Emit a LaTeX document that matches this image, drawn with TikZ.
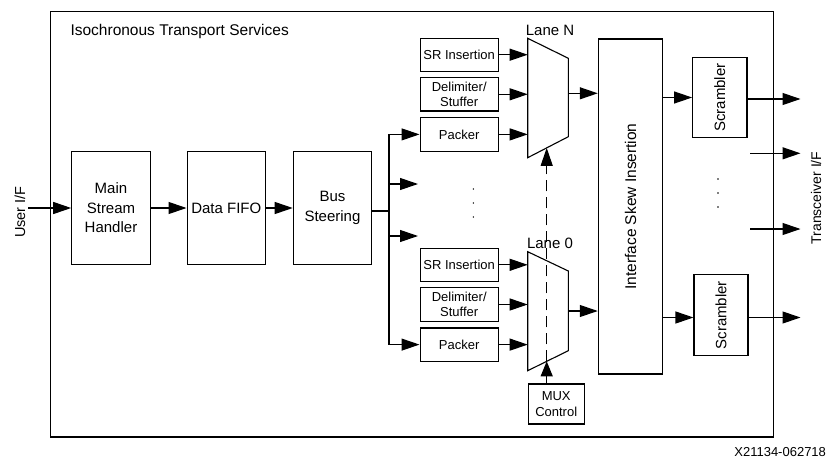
\documentclass[tikz,border=0pt]{standalone}
\usepackage{fontspec}
\setmainfont{Liberation Sans}
\usetikzlibrary{arrows.meta}

\begin{document}
\begin{tikzpicture}[x=1pt,y=-1pt,
  line width=1.1pt,
  box/.style={draw, line width=1.1pt, inner sep=0pt, align=center},
  bigbox/.style={box, minimum width=78.5pt, minimum height=112.5pt,
                 font=\fontsize{15}{19.5}\selectfont},
  smallbox/.style={box, minimum width=78.3pt, minimum height=33.3pt,
                   font=\fontsize{13}{15}\selectfont},
  arr/.style={-{Triangle[length=18pt,width=12pt]}},
  dots/.style={fill, circle, inner sep=0pt, minimum size=1.6pt},
  lbl/.style={font=\fontsize{15}{18}\selectfont, inner sep=0pt}]

\useasboundingbox (0,0) rectangle (827,458);

% enclosing block
\node[draw, line width=1.3pt, minimum width=723pt, minimum height=425.3pt, inner sep=0pt]
  (its) at (412.2,224.35) {};
\node[lbl, anchor=base west, font=\fontsize{15.5}{18}\selectfont] (title) at (70,35.5)
  {Isochronous Transport Services};

% input side
\node[lbl, rotate=90, font=\fontsize{14.5}{17}\selectfont] (user) at (20,212) {User I/F};
\coordinate (userin) at (28,208);

\node[bigbox] (msh)  at (111,208)   {Main\\Stream\\Handler};
\node[bigbox] (fifo) at (226.3,208) {Data FIFO};
\node[bigbox] (bus)  at (332.5,208) {Bus\\Steering};

\draw[arr] (userin) -- (msh.west);
\draw[arr] (msh) -- (fifo);
\draw[arr] (fifo) -- (bus);

% lane N sources
\node[smallbox] (srN)  at (459.2,54.7)  {SR Insertion};
\node[smallbox] (delN) at (459.2,94.3)  {Delimiter/\\Stuffer};
\node[smallbox] (pkN)  at (459.2,134.4) {Packer};
% lane 0 sources
\node[smallbox] (sr0)  at (459.2,264.8) {SR Insertion};
\node[smallbox] (del0) at (459.2,304.5) {Delimiter/\\Stuffer};
\node[smallbox] (pk0)  at (459.2,344.6) {Packer};

% bus steering fan-out
\coordinate (split) at (389,211);
\coordinate (brA) at (418,184);
\coordinate (brB) at (418,236);
\draw (bus.east |- split) -- (split);
\draw (389,134.4) -- (389,344.6);
\draw[arr] (389,134.4) -- (pkN.west);
\draw[arr] (389,184) -- (brA);
\draw[arr] (389,236) -- (brB);
\draw[arr] (389,344.6) -- (pk0.west);

% vertical ellipsis between lanes
\node[dots] (d1) at (473.3,189) {};
\node[dots] (d2) at (473.3,203) {};
\node[dots] (d3) at (473.3,217) {};

% multiplexers
\coordinate (muxNtl) at (527.7,38.3);
\coordinate (muxNtr) at (568.3,58.3);
\coordinate (muxNbr) at (568.3,136.7);
\coordinate (muxNbl) at (527.7,157.7);
\draw (muxNtl) -- (muxNtr) -- (muxNbr) -- (muxNbl) -- cycle;
\coordinate (mux0tl) at (527.7,251.7);
\coordinate (mux0tr) at (568.3,271);
\coordinate (mux0br) at (568.3,350.7);
\coordinate (mux0bl) at (527.7,370.7);
\draw (mux0tl) -- (mux0tr) -- (mux0br) -- (mux0bl) -- cycle;

\node[lbl, anchor=base] (laneN) at (550,35) {Lane N};
\node[lbl, anchor=base] (lane0) at (550,248.3) {Lane 0};

\draw[arr] (srN.east)  -- (srN.east -| muxNtl);
\draw[arr] (delN.east) -- (delN.east -| muxNtl);
\draw[arr] (pkN.east)  -- (pkN.east -| muxNtl);
\draw[arr] (sr0.east)  -- (sr0.east -| mux0tl);
\draw[arr] (del0.east) -- (del0.east -| mux0tl);
\draw[arr] (pk0.east)  -- (pk0.east -| mux0tl);

% mux select
\node[smallbox, minimum width=55.7pt, minimum height=40pt,
      font=\fontsize{13}{15.7}\selectfont] (muxc) at (556.2,404) {MUX\\Control};
\coordinate (sel0) at (546.7,361.3);
\coordinate (selN) at (546.7,147.9);
\draw[-{Triangle[length=15pt,width=12pt]}] (muxc.north -| sel0) -- (sel0);
\draw[arr, dash pattern=on 11pt off 6pt] (sel0) -- (selN);

% skew insertion
\node[box, minimum width=64.4pt, minimum height=335pt,
      label={[rotate=90, font=\fontsize{15.5}{18}\selectfont]center:Interface Skew Insertion}]
  (isi) at (630.5,206.5) {};
\coordinate (muxNout) at (568.3,93.3);
\coordinate (mux0out) at (568.3,311);
\draw[arr] (muxNout) -- (muxNout -| isi.west);
\draw[arr] (mux0out) -- (mux0out -| isi.west);

% scramblers
\node[box, minimum width=54.3pt, minimum height=80.4pt,
      label={[rotate=90, font=\fontsize{15}{18}\selectfont]center:Scrambler}]
  (scrN) at (719.8,97.5) {};
\node[box, minimum width=54pt, minimum height=81pt,
      label={[rotate=90, font=\fontsize{15}{18}\selectfont]center:Scrambler}]
  (scr0) at (721,315.2) {};

\coordinate (outN) at (800.5,99);
\coordinate (out0) at (800.5,317.5);
\draw[arr] (isi.east |- scrN.west) -- (scrN.west);
\draw[arr] (isi.east |- out0) -- (scr0.west |- out0);
\draw[arr] (scrN.east |- outN) -- (outN);
\draw[arr] (scr0.east |- out0) -- (out0);

\coordinate (midAin) at (750,153.3);
\coordinate (midAout) at (800.5,153.3);
\coordinate (midBin) at (750,229);
\coordinate (midBout) at (800.5,229);
\draw[arr] (midAin) -- (midAout);
\draw[arr] (midBin) -- (midBout);

\node[dots] (e1) at (718,179) {};
\node[dots] (e2) at (718,193) {};
\node[dots] (e3) at (718,207) {};

\node[lbl, rotate=90, font=\fontsize{14}{17}\selectfont] (xcvr) at (816,198) {Transceiver I/F};

\node[anchor=base east, inner sep=0pt, font=\fontsize{13}{15}\selectfont] (figid) at (826.5,456)
  {X21134-062718};
\end{tikzpicture}
\end{document}
